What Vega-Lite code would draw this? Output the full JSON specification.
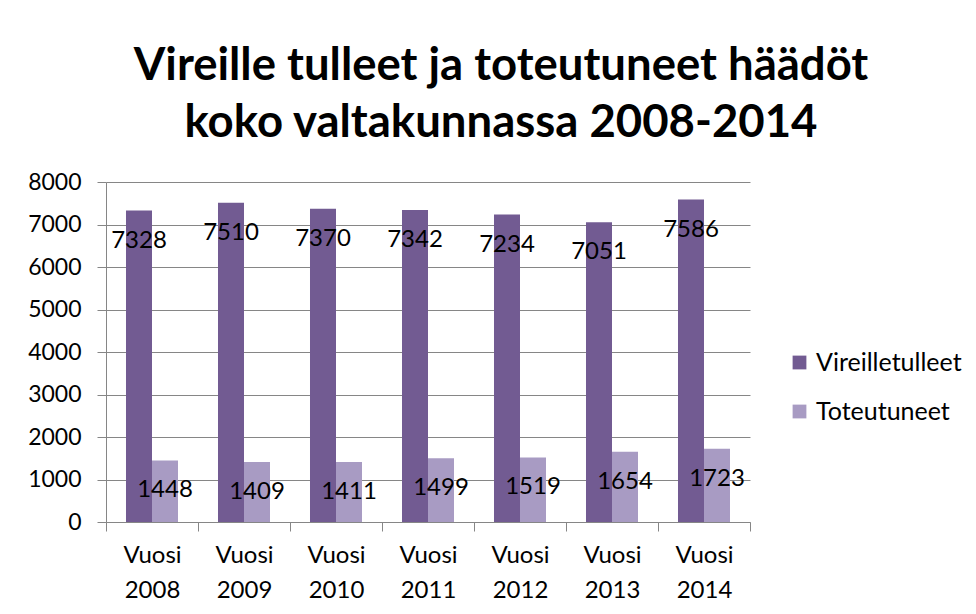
{
  "$schema": "https://vega.github.io/schema/vega-lite/v6.json",
  "autosize": {"type": "none"},
  "width": 644,
  "height": 340,
  "padding": {"left": 106, "top": 182, "right": 226, "bottom": 92},
  "background": "white",
  "config": {
    "font": "Lato",
    "view": {"stroke": null}
  },
  "title": {
    "text": ["Vireille tulleet ja toteutuneet häädöt", "koko valtakunnassa 2008-2014"],
    "font": "Lato",
    "fontSize": 45.5,
    "fontWeight": "bold",
    "color": "#000000",
    "anchor": "middle",
    "dx": 73,
    "lineHeight": 57,
    "offset": 25
  },
  "data": {
    "values": [
      {"year": "Vuosi 2008", "series": "Vireilletulleet", "value": 7328},
      {"year": "Vuosi 2009", "series": "Vireilletulleet", "value": 7510},
      {"year": "Vuosi 2010", "series": "Vireilletulleet", "value": 7370},
      {"year": "Vuosi 2011", "series": "Vireilletulleet", "value": 7342},
      {"year": "Vuosi 2012", "series": "Vireilletulleet", "value": 7234},
      {"year": "Vuosi 2013", "series": "Vireilletulleet", "value": 7051},
      {"year": "Vuosi 2014", "series": "Vireilletulleet", "value": 7586},
      {"year": "Vuosi 2008", "series": "Toteutuneet", "value": 1448},
      {"year": "Vuosi 2009", "series": "Toteutuneet", "value": 1409},
      {"year": "Vuosi 2010", "series": "Toteutuneet", "value": 1411},
      {"year": "Vuosi 2011", "series": "Toteutuneet", "value": 1499},
      {"year": "Vuosi 2012", "series": "Toteutuneet", "value": 1519},
      {"year": "Vuosi 2013", "series": "Toteutuneet", "value": 1654},
      {"year": "Vuosi 2014", "series": "Toteutuneet", "value": 1723}
    ]
  },
  "encoding": {
    "x": {
      "field": "year",
      "type": "nominal",
      "sort": null,
      "scale": {"paddingInner": 0, "paddingOuter": 0},
      "axis": {
        "title": null,
        "labelAngle": 0,
        "labelExpr": "split(datum.label, ' ')",
        "labelFont": "Lato",
        "labelFontSize": 24,
        "labelColor": "#000000",
        "labelLineHeight": 35,
        "labelPadding": 12,
        "tickBand": "extent",
        "tickSize": 9,
        "tickColor": "#868686",
        "domainColor": "#868686",
        "grid": false
      }
    },
    "xOffset": {
      "field": "series",
      "type": "nominal",
      "sort": ["Vireilletulleet", "Toteutuneet"],
      "scale": {"paddingInner": 0, "paddingOuter": 0.769}
    },
    "y": {
      "field": "value",
      "type": "quantitative",
      "scale": {"domain": [0, 8000], "nice": false},
      "axis": {
        "title": null,
        "values": [0, 1000, 2000, 3000, 4000, 5000, 6000, 7000, 8000],
        "format": "d",
        "labelFont": "Lato",
        "labelFontSize": 23,
        "labelColor": "#000000",
        "labelPadding": 16,
        "tickSize": 9,
        "tickColor": "#868686",
        "gridColor": "#868686",
        "domainColor": "#868686"
      }
    }
  },
  "layer": [
    {
      "mark": {"type": "bar"},
      "encoding": {
        "color": {
          "field": "series",
          "type": "nominal",
          "sort": ["Vireilletulleet", "Toteutuneet"],
          "scale": {"domain": ["Vireilletulleet", "Toteutuneet"], "range": ["#725B92", "#A89BC3"]},
          "legend": {
            "title": null,
            "orient": "none",
            "legendX": 681,
            "legendY": 168,
            "symbolType": "square",
            "symbolSize": 190,
            "symbolStrokeWidth": 0,
            "labelFont": "Lato",
            "labelFontSize": 25,
            "labelColor": "#000000",
            "rowPadding": 23,
            "labelOffset": 4
          }
        }
      }
    },
    {
      "mark": {"type": "text", "baseline": "middle", "align": "center", "dy": 30, "font": "Lato", "fontSize": 24, "color": "#000000"},
      "encoding": {
        "text": {"field": "value", "type": "quantitative", "format": "d"}
      }
    }
  ]
}
